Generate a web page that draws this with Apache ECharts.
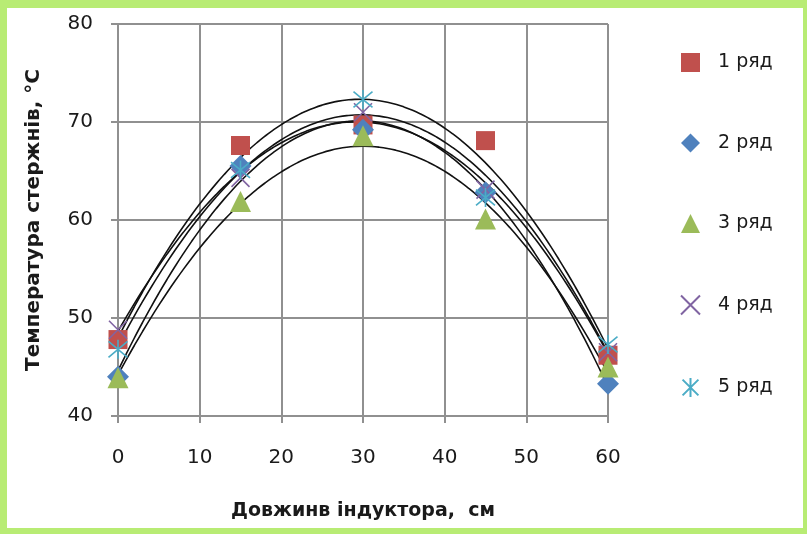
<!DOCTYPE html>
<html>
<head>
<meta charset="utf-8">
<script src="https://cdn.jsdelivr.net/npm/echarts@6/dist/echarts.min.js"></script>
<style>
  html, body { margin: 0; padding: 0; background: #b8ec74; }
  #chart { width: 807px; height: 534px; }
</style>
</head>
<body>
<div id="chart"></div>
<script>
// Positions along the inductor, cm
const lengths = [0, 15, 30, 45, 60];
// Rod temperatures, °C, for each row
const row1 = [47.8, 67.6, 69.7, 68.1, 46.2];
const row2 = [44.0, 65.5, 69.2, 62.8, 43.3];
const row3 = [43.9, 61.9, 68.6, 60.1, 45.0];
const row4 = [48.8, 64.3, 71.0, 63.1, 46.5];
const row5 = [46.8, 65.1, 72.3, 62.3, 47.3];
const rowNames = ['1 ряд', '2 ряд', '3 ряд', '4 ряд', '5 ряд'];
const xTicks = [0, 10, 20, 30, 40, 50, 60];
const yTicks = [40, 50, 60, 70, 80];

const rows = [row1, row2, row3, row4, row5];

// Least-squares quadratic trend for one row
function quadFit(xs, ys) {
  let s = [0, 0, 0, 0, 0], t = [0, 0, 0];
  for (let i = 0; i < xs.length; i++) {
    let p = 1;
    for (let k = 0; k < 5; k++) { s[k] += p; if (k < 3) t[k] += p * ys[i]; p *= xs[i]; }
  }
  const M = [[s[0], s[1], s[2], t[0]], [s[1], s[2], s[3], t[1]], [s[2], s[3], s[4], t[2]]];
  for (let c = 0; c < 3; c++) {
    for (let r = c + 1; r < 3; r++) {
      const f = M[r][c] / M[c][c];
      for (let k = c; k < 4; k++) M[r][k] -= f * M[c][k];
    }
  }
  const b = [0, 0, 0];
  for (let r = 2; r >= 0; r--) {
    let v = M[r][3];
    for (let k = r + 1; k < 3; k++) v -= M[r][k] * b[k];
    b[r] = v / M[r][r];
  }
  return x => b[0] + b[1] * x + b[2] * x * x;
}

const colors = ['#c0504d', '#4f81bd', '#9bbb59', '#8064a2', '#4bacc6'];
const symbols = [
  'rect',
  'diamond',
  'triangle',
  'path://M0 0L10 10M10 0L0 10',
  'path://M0 0L10 10M10 0L0 10M5 -1L5 11'
];
const sizes = [19, 22, 21, 18, 19];

const series = [];
rows.forEach((r, i) => {
  const f = quadFit(lengths, r);
  const curve = [];
  for (let x = 0; x <= 60; x += 1) curve.push([x, f(x)]);
  series.push({
    name: 'trend' + i,
    type: 'line',
    data: curve,
    showSymbol: false,
    smooth: true,
    silent: true,
    lineStyle: { color: '#111', width: 1.6 },
    z: 1
  });
});
rows.forEach((r, i) => {
  const stroked = i >= 3;
  series.push({
    name: rowNames[i],
    type: 'scatter',
    data: lengths.map((x, j) => [x, r[j]]),
    symbol: symbols[i],
    symbolSize: sizes[i],
    itemStyle: stroked
      ? { color: 'rgba(0,0,0,0)', borderColor: colors[i], borderWidth: 1.6, opacity: 1 }
      : { color: colors[i], opacity: 1 },
    z: 3
  });
});

const FONT = '"DejaVu Sans", sans-serif';
const chart = echarts.init(document.getElementById('chart'));
chart.setOption({
  backgroundColor: '#b8ec74',
  animation: false,
  graphic: [{
    type: 'rect', z: -100, silent: true,
    shape: { x: 7, y: 8, width: 796, height: 520 },
    style: { fill: '#ffffff' }
  }],
  grid: { left: 118, right: 199, top: 24, bottom: 118 },
  xAxis: {
    type: 'value', min: 0, max: 60, interval: 10,
    name: 'Довжинв індуктора,  см',
    nameLocation: 'middle', nameGap: 86,
    nameTextStyle: { fontFamily: FONT, fontSize: 19, fontWeight: 'bold', color: '#1a1a1a' },
    axisLine: { show: true, lineStyle: { color: '#909090', width: 2 } },
    axisTick: { show: true, length: 7, lineStyle: { color: '#909090', width: 2 } },
    axisLabel: { fontFamily: FONT, fontSize: 20, color: '#1a1a1a', margin: 32,
      formatter: v => xTicks.includes(v) ? String(v) : '' },
    splitLine: { show: true, lineStyle: { color: '#909090', width: 2 } }
  },
  yAxis: {
    type: 'value', min: 40, max: 80, interval: 10,
    name: 'Температура стержнів, °С',
    nameLocation: 'middle', nameGap: 74, nameRotate: 90,
    nameTextStyle: { fontFamily: FONT, fontSize: 20, fontWeight: 'bold', color: '#1a1a1a' },
    axisLine: { show: true, lineStyle: { color: '#909090', width: 2 } },
    axisTick: { show: true, length: 7, lineStyle: { color: '#909090', width: 2 } },
    axisLabel: { fontFamily: FONT, fontSize: 20, color: '#1a1a1a', margin: 25,
      formatter: v => yTicks.includes(v) ? String(v) : '' },
    splitLine: { show: true, lineStyle: { color: '#909090', width: 2 } }
  },
  legend: {
    data: rowNames.map((n, i) => ({ name: n, icon: symbols[i] })),
    orient: 'vertical',
    left: 675, top: 48,
    itemWidth: 19, itemHeight: 19,
    itemGap: 61.5,
    textStyle: { fontFamily: FONT, fontSize: 19, color: '#1a1a1a', padding: [0, 0, 0, 13] }
  },
  series: series
});
</script>
</body>
</html>
